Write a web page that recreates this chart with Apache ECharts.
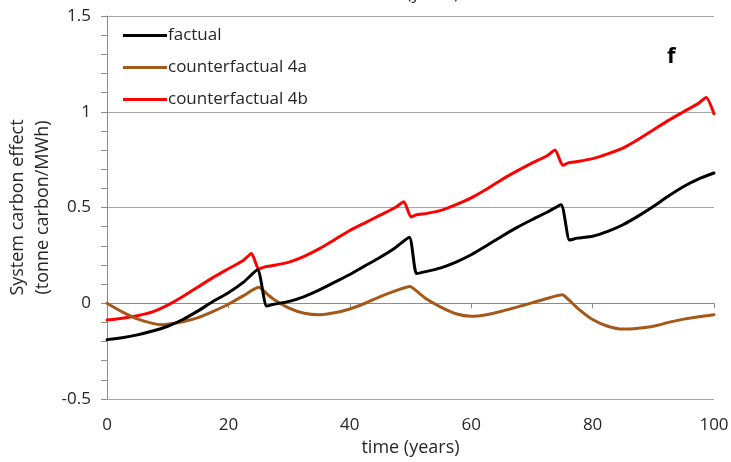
<!DOCTYPE html>
<html>
<head>
<meta charset="utf-8">
<script src="https://cdn.jsdelivr.net/npm/echarts@6/dist/echarts.min.js"></script>
<style>
  html, body { margin: 0; padding: 0; background: #fff; }
  #chart { width: 731px; height: 462px; }
</style>
</head>
<body>
<div id="chart"></div>
<script>
// Time points (years) and values (tonne carbon / MWh) for each scenario
const factualYears = [0, 2.5, 5, 7.5, 10, 12.5, 15, 17.5, 20, 22.5, 24.8, 26.3, 27.5, 30, 32.5, 35, 37.5, 40, 42.5, 45, 47.5, 49.8, 51, 52.5, 55, 57.5, 60, 62.5, 65, 67.5, 70, 72.5, 74.8, 76.2, 77.5, 80, 82.5, 85, 87.5, 90, 92.5, 95, 97.5, 100];
const factualValues = [-0.19, -0.18, -0.165, -0.145, -0.12, -0.085, -0.04, 0.01, 0.055, 0.11, 0.175, -0.015, -0.005, 0.01, 0.035, 0.07, 0.11, 0.15, 0.195, 0.24, 0.29, 0.345, 0.155, 0.165, 0.185, 0.215, 0.253, 0.3, 0.349, 0.395, 0.436, 0.475, 0.515, 0.33, 0.34, 0.35, 0.375, 0.41, 0.455, 0.505, 0.56, 0.61, 0.65, 0.68];

const cf4aYears = [0, 2.5, 5, 7.5, 9, 10, 12.5, 15, 17.5, 20, 22.5, 25, 26.5, 27.5, 30, 32.5, 35, 37.5, 40, 42.5, 45, 47.5, 49.9, 51.5, 52.5, 55, 57.5, 60, 62.5, 65, 67.5, 70, 72.5, 75, 76, 77.5, 80, 82.5, 85, 87.5, 90, 92.5, 95, 97.5, 100];
const cf4aValues = [0.0, -0.045, -0.082, -0.105, -0.112, -0.11, -0.097, -0.075, -0.042, -0.005, 0.04, 0.083, 0.045, 0.02, -0.025, -0.052, -0.06, -0.05, -0.03, 0.0, 0.035, 0.065, 0.088, 0.05, 0.025, -0.02, -0.055, -0.068, -0.06, -0.042, -0.02, 0.002, 0.025, 0.044, 0.02, -0.025, -0.085, -0.12, -0.135, -0.13, -0.12, -0.1, -0.083, -0.07, -0.06];

const cf4bYears = [0, 2.5, 5, 7.5, 10, 12.5, 15, 17.5, 20, 22.5, 23.8, 25, 26, 27.5, 30, 32.5, 35, 37.5, 40, 42.5, 45, 47.5, 48.9, 50.1, 51, 52.5, 55, 57.5, 60, 62.5, 65, 67.5, 70, 72.5, 73.8, 75.1, 76, 77.5, 80, 82.5, 85, 87.5, 90, 92.5, 95, 97.5, 98.7, 100];
const cf4bValues = [-0.088, -0.078, -0.065, -0.045, -0.01, 0.035, 0.085, 0.135, 0.18, 0.225, 0.26, 0.178, 0.19, 0.198, 0.215, 0.245, 0.285, 0.332, 0.38, 0.42, 0.46, 0.5, 0.53, 0.45, 0.462, 0.468, 0.485, 0.515, 0.55, 0.595, 0.645, 0.69, 0.732, 0.77, 0.8, 0.72, 0.733, 0.74, 0.755, 0.78, 0.81, 0.855, 0.905, 0.955, 1.0, 1.045, 1.075, 0.99];

const seriesNames = ['factual', 'counterfactual 4a', 'counterfactual 4b'];
const seriesColors = ['#000000', '#a4581a', '#ff0000'];

const pairs = (xs, ys) => xs.map((x, i) => [x, ys[i]]);

const FONT = '"Open Sans", Lato, sans-serif';
const TEXT = '#262626';
const chart = echarts.init(document.getElementById('chart'), null, { renderer: 'canvas' });

const lineSeries = [
  pairs(factualYears, factualValues),
  pairs(cf4aYears, cf4aValues),
  pairs(cf4bYears, cf4bValues)
].map((data, i) => ({
  name: seriesNames[i],
  type: 'line',
  data: data,
  symbol: 'none',
  smooth: 0.2,
  lineStyle: { color: seriesColors[i], width: 3, join: 'round', cap: 'round' },
  itemStyle: { color: seriesColors[i] },
  animation: false,
  z: 3 - i
}));

chart.setOption({
  backgroundColor: '#ffffff',
  animation: false,
  grid: { left: 107, right: 17, top: 16, bottom: 63, containLabel: false, outerBoundsMode: 'none' },
  legend: {
    orient: 'vertical',
    left: 118,
    top: 22,
    itemWidth: 44,
    itemHeight: 14,
    itemGap: 15,
    icon: 'path://M0,0 L44,0 L44,3 L0,3 Z',
    data: seriesNames,
    textStyle: { fontFamily: FONT, fontSize: 17, color: TEXT, padding: [0, 0, 0, -4] }
  },
  xAxis: {
    type: 'value',
    min: 0,
    max: 100,
    interval: 20,
    name: 'time (years)',
    nameLocation: 'middle',
    nameGap: 40,
    nameMoveOverlap: false,
    nameTextStyle: { fontFamily: FONT, fontSize: 18, color: TEXT },
    axisLine: { show: true, lineStyle: { color: '#8c8c8c', width: 1 } },
    axisTick: { show: true, length: 5, lineStyle: { color: '#8c8c8c' } },
    axisLabel: { fontFamily: FONT, fontSize: 17, color: TEXT, margin: 18 },
    splitLine: { show: false }
  },
  yAxis: {
    type: 'value',
    min: -0.5,
    max: 1.5,
    interval: 0.5,
    name: 'System carbon effect\n(tonne carbon/MWh)',
    nameLocation: 'middle',
    nameRotate: 90,
    nameGap: 52,
    nameMoveOverlap: false,
    nameTextStyle: { fontFamily: FONT, fontSize: 18, color: TEXT, lineHeight: 25 },
    axisLine: { show: true, lineStyle: { color: '#8c8c8c', width: 1 } },
    axisTick: { show: true, length: 6, lineStyle: { color: '#8c8c8c' } },
    minorTick: { show: true, splitNumber: 5, length: 6, lineStyle: { color: '#8c8c8c' } },
    axisLabel: { fontFamily: FONT, fontSize: 17, color: TEXT, margin: 16 },
    splitLine: { show: true, lineStyle: { color: '#a6a6a6', width: 1 } }
  },
  graphic: [
    {
      type: 'text',
      left: 667,
      top: 46,
      style: { text: 'f', fontFamily: FONT, fontWeight: 'bold', fontSize: 22, fill: '#000' }
    },
    {
      type: 'text',
      x: 459,
      y: 3,
      style: { text: 'time (years)', fontFamily: FONT, fontSize: 17, fill: TEXT, textAlign: 'right', textVerticalAlign: 'bottom' }
    }
  ],
  series: lineSeries
});
</script>
</body>
</html>
